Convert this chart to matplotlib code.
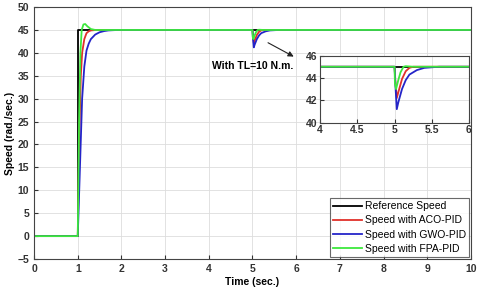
import matplotlib
matplotlib.use("Agg")
import matplotlib.pyplot as plt

# step reference
t_ref = [0, 1, 1, 10]
w_ref = [0, 0, 45, 45]

# ACO-PID response
t_aco = [0, 1, 1.03, 1.07, 1.1, 1.15, 1.2, 1.25, 1.3, 1.4, 1.5, 5, 5.01, 5.03, 5.05, 5.1, 5.15, 5.2, 5.25, 10]
w_aco = [0, 0, 20, 35, 40, 43, 44.3, 44.7, 44.9, 44.98, 45, 45, 43.8, 42.2, 42.7, 43.9, 44.6, 44.9, 45, 45]

# GWO-PID response
t_gwo = [0, 1, 1.05, 1.1, 1.15, 1.2, 1.25, 1.3, 1.4, 1.5, 1.6, 1.7, 1.85, 2, 5, 5.01, 5.03, 5.05, 5.1, 5.15, 5.2, 5.3, 5.4, 5.6, 10]
w_gwo = [0, 0, 15, 30, 37, 40.5, 42, 43, 44, 44.5, 44.75, 44.9, 44.97, 45, 45, 43.5, 41.2, 41.8, 43, 43.8, 44.3, 44.7, 44.9, 45, 45]

# FPA-PID response
t_fpa = [0, 1, 1.03, 1.06, 1.09, 1.13, 1.17, 1.22, 1.3, 1.4, 5, 5.005, 5.02, 5.05, 5.08, 5.12, 5.15, 5.25, 10]
w_fpa = [0, 0, 25, 40, 45, 46.2, 46.3, 45.8, 45.2, 45, 45, 43.5, 43.0, 43.8, 44.5, 45, 45.05, 45, 45]

labels = ["Reference Speed", "Speed with ACO-PID", "Speed with GWO-PID", "Speed with FPA-PID"]
colors = ["black", "#e0302a", "#2424c8", "#3de83d"]

plt.rcParams["font.family"] = ["Liberation Sans", "DejaVu Sans"]

fig = plt.figure(figsize=(4.8, 2.94), dpi=100)
ax = fig.add_axes([0.071, 0.119, 0.910, 0.857])

series = [(t_ref, w_ref), (t_aco, w_aco), (t_gwo, w_gwo), (t_fpa, w_fpa)]
for (t, w), c, lab in zip(series, colors, labels):
    ax.plot(t, w, color=c, lw=1.3, label=lab)

ax.set_xlim(0, 10)
ax.set_ylim(-5, 50)
ax.set_xticks(range(0, 11))
ax.set_yticks(range(-5, 51, 5))
ax.grid(True, color="#dddddd", lw=0.6)
ax.tick_params(direction="in", labelsize=7.5, colors="#333333", length=3)
for lbl in ax.get_xticklabels() + ax.get_yticklabels():
    lbl.set_fontweight("bold")
for s in ax.spines.values():
    s.set_color("#444444")
    s.set_linewidth(0.8)
ax.set_xlabel("Time (sec.)", fontsize=7.5, fontweight="bold", labelpad=2)
ax.set_ylabel("Speed (rad./sec.)", fontsize=7.5, fontweight="bold", labelpad=2)

leg = ax.legend(loc="lower right", fontsize=7.5, frameon=True, fancybox=False,
                borderpad=0.35, labelspacing=0.4, handlelength=2.8, handletextpad=0.2,
                borderaxespad=0.15)
leg.get_frame().set_edgecolor("#444444")
leg.get_frame().set_linewidth(0.8)

ax.annotate("", xy=(6.0, 38.9), xytext=(5.3, 42.5),
            arrowprops=dict(arrowstyle="-|>", color="#222222", lw=0.8, mutation_scale=8))
ax.text(5.0, 37.2, "With TL=10 N.m.", fontsize=7.5, fontweight="bold", ha="center", va="center")

# zoomed inset
axi = fig.add_axes([0.667, 0.583, 0.310, 0.228])
for (t, w), c in zip(series, colors):
    axi.plot(t, w, color=c, lw=1.3)
axi.set_xlim(4, 6)
axi.set_ylim(40, 46)
axi.set_xticks([4, 4.5, 5, 5.5, 6])
axi.set_xticklabels(["4", "4.5", "5", "5.5", "6"])
axi.set_yticks([40, 42, 44, 46])
axi.grid(True, color="#dddddd", lw=0.6)
axi.tick_params(direction="in", labelsize=7.5, colors="#333333", length=3, pad=2)
for lbl in axi.get_xticklabels() + axi.get_yticklabels():
    lbl.set_fontweight("bold")
for s in axi.spines.values():
    s.set_color("#444444")
    s.set_linewidth(0.8)

fig.savefig("out.png", dpi=100)
